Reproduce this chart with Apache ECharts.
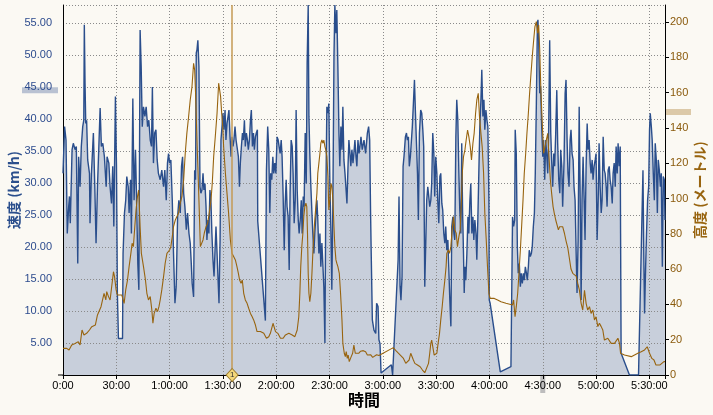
<!DOCTYPE html>
<html>
<head>
<meta charset="utf-8">
<script src="https://cdn.jsdelivr.net/npm/echarts@6/dist/echarts.min.js"></script>
<style>
html,body{margin:0;padding:0;background:#FBF9F3;}
#c{width:713px;height:415px;}
</style>
</head>
<body>
<div id="c"></div>
<script>
// time in minutes, speed in km/h
const speedPoints = [
[0,31.5],[0.9,38.8],[1.7,36.7],[2.4,22.1],[3.2,26.3],[3.6,27.9],[4.1,23.7],[5.1,35.2],[5.8,36.2],[6.8,35.2],[7.5,35.7],[8.3,17.4],[8.8,34.1],[9.6,29.4],[10.3,35.7],[11.1,38.8],[11.7,39.8],[12.0,54.7],[12.4,45.6],[12.8,39.3],[13.3,39.8],[13.9,33.6],[14.9,31.5],[15.2,23.7],[16.0,31.5],[17.1,37.8],[17.9,29.4],[18.6,20.6],[19.4,29.4],[20.3,36.7],[20.9,41.7],[21.6,35.7],[22.4,36.2],[23.3,34.1],[24.3,29.4],[24.8,34.1],[25.8,33.1],[26.5,29.4],[27.3,26.8],[28.0,32.6],[28.6,23.2],[29.5,43.5],[30.1,32.6],[30.6,12.8],[31.2,5.7],[33.5,5.7],[33.8,19.0],[34.6,25.3],[35.3,27.3],[35.9,31.0],[36.7,29.4],[37.2,25.3],[38.0,30.5],[38.5,22.1],[39.3,43.2],[40.0,27.3],[40.8,35.2],[41.5,26.3],[42.1,17.4],[42.7,13.3],[43.4,53.9],[44.0,48.2],[44.6,38.8],[45.3,41.9],[46.1,40.4],[46.8,41.9],[47.6,38.8],[48.3,39.8],[49.1,36.7],[49.8,35.7],[50.3,45.0],[50.9,33.1],[51.6,37.8],[52.3,38.3],[53.0,33.6],[53.7,31.5],
[54.7,30.5],[55.6,32.0],[56.6,29.4],[57.3,32.0],[58.1,27.3],[58.8,33.1],[59.4,34.6],[60.0,33.1],[60.7,33.6],[61.5,27.3],[62.2,19.0],[63.0,11.2],[63.7,13.8],[64.5,24.7],[65.2,27.3],[66.0,25.3],[66.7,32.6],[67.3,34.1],[67.9,28.4],[68.6,26.3],[69.4,22.7],[70.1,25.3],[70.9,22.1],[71.6,20.6],[72.2,17.4],[72.7,14.3],[73.5,12.2],[74.1,32.0],[74.6,30.5],[75.0,50.3],[75.4,50.8],[75.9,52.3],[76.5,48.2],[77.1,29.4],[77.6,28.4],[78.2,28.9],[78.8,31.5],[79.3,28.9],[79.9,29.9],[80.5,26.3],[81.0,21.1],[81.6,24.2],[82.1,22.1],[82.7,28.9],[83.3,26.8],[83.8,22.1],[84.4,18.0],[85.0,15.4],[85.5,19.0],[86.1,23.2],[86.7,19.0],[87.2,15.4],[87.8,11.2],[88.4,21.1],[88.9,36.7],[89.5,38.8],[90.0,40.9],[90.6,38.3],[91.2,41.4],[91.7,36.7],[92.3,39.3],[92.9,40.4],[93.4,41.4],[94.0,37.2],[94.6,34.1],[95.1,37.2],[95.7,35.7],[96.2,36.7],[96.8,38.8],[97.4,36.7],[97.9,35.7],[98.7,34.1],[99.3,29.4],[99.8,33.1],[100.4,35.7],[101.0,37.8],[101.5,36.7],[102.1,39.8],[102.6,35.7],[103.2,37.8],[103.8,36.7],[104.3,35.2],[104.9,36.7],[105.5,39.8],[106.0,41.4],[106.6,35.7],[107.2,37.8],[107.7,35.2],[108.3,37.2],[108.8,37.8],[109.4,38.3],[109.6,24.0],
[113.9,8.5],[114.5,32.0],[115.2,38.8],[115.8,35.2],[116.4,25.3],[116.9,31.5],[117.5,30.5],[118.1,34.1],[118.6,31.5],[119.2,33.1],[119.8,31.5],[120.5,37.2],[121.1,36.7],[121.6,35.7],[122.2,34.6],[122.8,36.7],[123.3,34.1],[123.9,27.9],[124.5,19.5],[125.0,26.3],[125.6,30.5],[126.1,26.3],[126.7,24.7],[127.3,16.4],[127.8,28.4],[128.4,36.7],[129.0,35.7],[129.5,31.5],[130.1,23.7],[130.7,27.3],[131.2,41.4],[131.8,28.9],[132.4,24.2],[132.9,22.1],[133.5,24.2],[134.1,27.3],[134.6,22.1],[135.2,27.9],[135.7,26.3],[136.3,37.8],[136.9,29.9],[137.4,48.7],[138.0,57.8],[138.4,40.4],[138.9,34.6],[139.5,29.4],[140.1,25.3],[140.6,22.1],[141.2,19.0],[141.7,22.1],[142.3,24.7],[142.9,27.3],[143.4,24.2],[144.0,19.0],[144.6,22.1],[145.1,16.9],[145.7,20.6],[146.3,16.9],[146.8,13.8],[147.4,5.0],[147.9,27.3],[148.5,41.9],[149.1,40.9],[149.6,42.4],[150.2,29.9],[150.8,22.1],[151.3,13.3],[151.9,27.3],[152.5,49.7],[153.0,57.8],[153.6,53.4],[154.1,57.0],[154.7,48.2],[155.3,37.8],[155.8,32.6],[156.4,38.8],[157.0,35.2],[157.5,41.9],[158.1,33.6],[158.7,31.5],[159.2,29.4],[159.8,26.8],[160.4,32.6],[160.9,36.7],[161.5,34.6],[162.0,32.6],[162.6,35.2],[163.2,33.1],[163.7,34.6],[164.3,36.7],[164.9,34.1],[165.4,32.6],[166.0,36.7],[166.6,34.6],[167.1,35.7],[167.7,37.2],[168.4,35.2],[169.4,36.7],[170.3,34.6],[171.3,37.8],[172.0,38.8],[172.6,36.7],[173.1,25.3],[173.4,20.0],[174.1,8.6],[175.0,7.0],[176.0,6.5],[176.5,11.2],[177.3,10.7],[177.8,5.5],[178.4,4.9],[179.0,0.3],[179.5,0],
[184.8,1.6],[185.5,0],[188.6,18.0],[189.1,27.9],[189.7,13.8],[190.2,11.7],[190.8,15.4],[191.4,32.6],[191.9,34.1],[192.7,37.2],[193.3,37.8],[193.8,36.7],[194.4,37.2],[194.9,32.6],[195.5,34.1],[196.1,36.7],[196.6,38.8],[197.2,42.4],[197.8,46.1],[198.3,41.4],[198.9,41.4],[199.5,31.5],[200.0,24.2],[200.6,37.8],[201.3,41.4],[201.9,40.9],[202.5,38.3],[203.0,35.7],[203.6,13.8],[204.2,21.1],[204.7,27.3],[205.3,29.4],[205.9,29.4],[206.4,26.3],[207.0,27.3],[207.5,29.9],[208.1,37.8],[208.7,34.6],[209.2,27.9],[209.8,34.1],[210.4,31.5],[210.9,27.3],[211.5,23.7],[212.1,31.0],[212.6,31.5],[213.2,26.8],[213.7,25.8],[214.3,22.1],[214.9,20.6],[215.4,23.2],[216.0,19.5],[216.6,21.1],[217.1,16.9],[217.7,11.7],[218.3,7.6],[218.8,23.2],[219.4,24.7],[220.0,22.1],[220.5,21.1],[221.1,37.2],[221.6,43.0],[222.2,39.8],[222.8,31.5],[223.3,25.8],[223.9,22.1],[224.4,36.2],[224.9,25.3],[225.4,19.0],[225.8,12.8],[226.2,16.9],[226.7,14.8],[227.3,19.0],[227.9,24.7],[228.4,22.1],[229.0,27.3],[229.5,29.9],[230.1,22.1],[230.7,24.7],[231.2,21.1],[231.8,24.2],[232.4,22.1],[232.9,18.0],[233.5,24.7],[234.1,32.6],[234.6,38.8],[235.2,43.0],[235.7,47.7],[236.3,40.4],[236.9,43.0],[237.4,38.3],[238.0,41.4],[238.6,39.8],[239.1,38.8],[239.7,27.3],[239.9,11.7],[240.4,11.2],
[246.1,0.5],[252.1,1.3],[253.0,24.7],[253.6,23.2],[254.2,24.2],[254.5,38.3],[255.1,34.6],[255.7,20.1],[256.2,15.9],[256.8,17.4],[257.4,13.8],[257.9,15.9],[258.5,14.3],[259.1,15.9],[259.6,14.8],[260.2,16.9],[260.8,15.9],[261.3,14.8],[261.9,16.9],[262.4,19.5],[263.0,18.5],[263.6,19.0],[264.1,20.1],[264.7,23.2],[265.3,25.3],[265.8,31.5],[266.4,42.4],[267.0,54.9],[267.3,55.5],[267.7,52.3],[268.3,44.0],[268.8,45.1],[269.4,38.8],[270.0,34.1],[270.5,36.7],[271.1,30.5],[271.7,36.7],[272.2,34.6],[272.8,31.5],[273.3,37.8],[273.9,52.3],[274.5,37.8],[275.0,33.6],[275.6,29.4],[276.2,34.6],[276.7,32.6],[277.3,37.8],[277.9,44.5],[278.4,36.2],[279.0,30.5],[279.6,28.4],[280.1,35.2],[280.7,32.6],[281.2,26.3],[282.0,33.6],[282.6,44.0],[283.1,46.1],[283.7,36.7],[284.2,31.5],[284.8,29.4],[285.4,36.7],[285.9,38.3],[286.5,34.6],[287.1,33.6],[287.6,29.4],[288.2,27.3],[288.8,19.0],[289.3,12.8],[289.9,21.1],[290.5,41.9],[291.0,29.4],[291.6,11.7],[292.1,27.3],[292.7,34.1],[293.3,27.3],[293.8,21.1],[294.4,32.6],[295.0,39.3],[295.5,35.2],[296.1,36.7],[296.7,33.1],[297.2,31.5],[297.8,33.6],[298.3,30.5],[298.9,32.6],[299.5,33.6],[300.0,34.6],[300.6,21.1],[301.2,27.3],[301.7,36.2],[302.3,29.4],[302.9,25.3],[303.4,27.3],[304.0,37.2],[304.6,32.0],[305.1,31.5],[305.7,29.4],[306.2,26.3],[306.8,32.0],[307.4,32.6],[307.9,30.5],[308.5,29.4],[309.1,26.8],[309.6,31.5],[310.2,33.1],[310.8,29.4],[311.3,35.7],[311.9,31.5],[312.4,36.2],[313.0,32.6],[313.6,35.7],[313.8,22.1],[314.1,3.4],
[318.8,0],[323.9,0],[326.4,32.0],[326.9,18.0],[327.3,9.6],[327.9,16.9],[328.4,22.1],[329.0,27.3],[329.6,29.4],[330.1,38.3],[330.5,40.9],[331.1,38.8],[331.6,36.7],[332.2,31.5],[332.8,27.3],[333.3,36.2],[333.9,33.6],[334.5,25.3],[335.0,33.6],[335.6,32.0],[336.2,29.4],[336.7,31.5],[337.3,16.9],[337.8,31.0],[338.4,30.5],[338.8,24.2]
];

// time in minutes, altitude in metres
const altitudePoints = [
[0,15.1],[2.1,15.1],[3.4,14.2],[4.9,17.0],[6.8,17.9],[8.6,18.9],[9.6,17.0],[10.7,25.5],[11.8,22.7],[13.3,23.6],[14.9,25.5],[16.2,27.4],[17.1,26.4],[18.2,28.3],[19.4,34.0],[20.5,34.9],[21.4,38.7],[22.4,39.7],[23.1,46.3],[24.1,42.5],[24.6,47.2],[25.6,44.4],[26.5,42.5],[27.4,50.0],[28.4,58.5],[29.0,55.7],[29.9,48.2],[30.6,45.3],[33.1,45.3],[33.7,46.3],[34.4,40.6],[35.3,48.2],[36.3,53.8],[37.2,61.4],[38.2,68.9],[38.9,74.6],[39.6,72.7],[40.4,84.0],[41.1,93.5],[41.9,101.0],[42.6,104.8],[43.4,84.0],[44.1,68.9],[45.3,61.4],[46.4,53.8],[47.2,46.3],[48.1,42.5],[49.1,44.4],[50.0,36.8],[50.6,29.3],[51.3,34.9],[52.3,37.8],[53.2,35.9],[54.0,38.7],[54.7,42.5],[55.6,48.2],[56.6,55.7],[57.5,63.3],[58.5,68.9],[59.2,68.9],[60.0,70.8],[60.7,72.7],[61.5,78.4],[62.2,84.0],[63.2,87.8],[64.1,87.8],[65.0,91.6],[66.0,97.3],[66.9,101.0],[67.9,110.5],[68.8,125.6],[69.7,136.9],[70.7,146.4],[71.6,155.8],[72.6,163.4],[73.5,176.6],[74.1,172.8],[74.6,159.6],[75.4,133.1],[75.9,118.0],[76.5,99.2],[77.3,72.7],[78.0,72.7],[78.8,76.5],[79.5,80.3],[80.5,84.0],[81.4,85.9],[82.3,91.6],[83.3,99.2],[84.0,108.6],[84.8,123.7],[85.7,135.0],[86.7,148.3],[87.6,165.3],[88.2,165.3],[88.7,157.7],[89.3,148.3],[89.9,140.7],[90.4,129.4],[91.4,114.3],[92.3,102.9],[93.2,91.6],[94.2,76.5],[95.1,68.9],[96.1,67.0],[97.0,65.2],[97.9,61.4],[98.7,57.6],[99.4,53.8],[100.2,51.9],[100.9,53.8],[101.7,46.3],[102.6,42.5],[103.6,40.6],[104.5,37.8],[105.5,34.9],[106.4,33.1],[107.3,31.2],[108.3,28.3],[109.2,24.6],[111.1,24.6],[113.0,23.6],[114.5,20.8],[115.8,21.7],[116.7,23.6],[118.2,29.3],[119.6,24.6],[120.9,23.6],[122.4,20.8],[123.9,20.8],[125.2,22.7],[127.1,23.6],[129.0,22.7],[130.5,21.7],[131.8,25.5],[132.7,33.0],[133.3,46.3],[133.8,61.4],[134.4,72.7],[135.0,80.3],[135.5,89.7],[136.1,95.4],[136.7,97.3],[137.2,95.4],[137.6,80.3],[138.0,57.6],[138.4,46.3],[138.9,41.5],[139.5,46.3],[140.1,57.6],[140.6,68.9],[141.2,80.3],[141.7,87.8],[142.3,95.4],[142.9,102.9],[143.4,114.3],[144.0,119.9],[144.6,125.6],[145.1,131.3],[145.7,133.1],[146.3,131.3],[146.8,133.1],[147.4,129.4],[147.9,127.5],[148.5,123.7],[149.1,112.4],[149.6,93.5],[150.2,99.2],[150.8,108.6],[151.3,106.7],[151.9,99.2],[152.5,84.0],[153.0,72.7],[153.6,65.2],[154.1,63.3],[154.7,61.4],[155.5,57.6],[156.2,46.3],[157.0,31.2],[157.5,17.9],[158.3,12.3],[158.9,10.4],[159.4,13.2],[160.0,9.4],[160.5,11.3],[161.1,7.6],[161.7,6.6],[162.2,10.4],[163.0,12.3],[163.7,17.0],[164.5,12.3],[165.2,13.2],[166.4,12.3],[167.5,13.5],[169.0,13.8],[170.3,13.2],[171.3,11.3],[172.2,10.4],[173.1,11.5],[174.3,10.0],[175.4,10.8],[176.5,11.5],[177.8,11.0],[178.8,11.8],[185.9,15.5],[187.2,14.0],[188.6,12.5],[190.1,11.0],[191.6,9.4],[192.9,6.6],[193.8,5.7],[194.8,8.5],[195.7,12.3],[196.6,11.5],[197.2,8.5],[198.0,6.6],[199.5,5.7],[201.0,4.7],[202.3,2.8],[203.6,1.3],[204.7,1.9],[205.7,6.6],[206.4,12.3],[207.0,17.9],[207.5,19.8],[208.1,16.1],[208.9,11.3],[209.6,10.4],[210.4,12.3],[211.1,17.9],[211.9,23.6],[212.6,31.2],[213.4,38.7],[214.1,46.3],[214.9,53.8],[215.6,61.4],[216.0,68.9],[216.8,70.8],[217.5,68.9],[218.3,72.7],[219.0,82.2],[219.8,89.7],[220.5,82.2],[221.3,80.3],[222.0,72.7],[222.8,78.4],[223.5,82.2],[224.3,100.0],[224.7,114.3],[225.4,123.7],[226.2,127.5],[226.9,133.1],[227.7,138.8],[228.4,135.0],[229.2,129.4],[229.9,121.8],[230.7,131.3],[231.4,136.9],[232.2,148.3],[232.9,155.8],[233.7,159.6],[234.4,146.4],[235.2,136.9],[235.9,129.4],[236.7,114.3],[237.4,91.6],[238.2,76.5],[238.9,61.4],[239.7,46.3],[240.4,43.4],[242.7,43.4],[244.6,42.5],[246.5,41.5],[249.3,40.6],[253.0,39.7],[253.6,42.5],[254.4,33.0],[255.1,38.7],[255.9,46.3],[256.6,57.6],[257.4,70.8],[258.1,84.0],[258.9,99.2],[259.6,114.3],[260.4,125.6],[261.1,136.9],[261.9,148.3],[262.6,159.6],[263.4,170.9],[264.1,180.4],[264.9,189.8],[265.6,197.4],[266.4,200.2],[267.1,193.6],[267.7,198.3],[268.3,184.1],[269.0,159.6],[269.8,140.7],[270.5,125.6],[271.3,129.4],[272.0,133.1],[272.8,136.9],[273.5,123.7],[274.3,110.5],[275.0,102.9],[275.8,95.4],[276.5,91.6],[277.3,87.8],[278.0,87.8],[278.8,82.2],[279.5,84.0],[280.3,84.0],[281.2,84.0],[282.2,80.3],[283.1,76.0],[284.1,72.0],[285.0,66.0],[285.9,60.0],[286.9,57.6],[287.8,58.0],[288.8,56.0],[289.7,51.9],[290.6,48.2],[291.6,40.6],[292.5,36.8],[293.5,48.0],[294.4,40.6],[295.3,36.8],[296.3,38.7],[297.2,34.9],[298.2,36.8],[299.1,31.2],[300.0,33.0],[301.0,27.4],[301.9,29.3],[302.9,27.4],[303.8,25.5],[304.7,19.8],[305.7,20.8],[306.6,20.8],[307.6,19.8],[308.5,17.9],[309.4,18.9],[310.4,17.9],[311.3,17.0],[312.3,20.8],[313.2,17.9],[313.8,12.3],[316.0,11.3],[319.8,10.4],[323.5,12.3],[325.4,13.2],[326.4,12.3],[327.3,14.2],[328.8,16.0],[330.1,12.3],[331.4,9.4],[332.6,8.5],[333.7,5.7],[334.8,6.6],[336.0,5.7],[337.1,6.6],[338.2,7.6],[338.8,7.6]
];

const timeLabels = ['0:00','30:00','1:00:00','1:30:00','2:00:00','2:30:00','3:00:00','3:30:00','4:00:00','4:30:00','5:00:00','5:30:00'];
const cursorTime = [95.2];
const cursorLabel = ['1'];

const labelFont = "'Liberation Sans',Arial,sans-serif";
const cjkFont = "'Noto Sans CJK JP','Noto Sans',sans-serif";
const speedColor = '#2A4E8C';
const altColor = '#98640F';
const gridStyle = {color:'#8a8a8a', width:1, type:[1,2]};

const chart = echarts.init(document.getElementById('c'), null, {renderer:'canvas'});
const option = {
  backgroundColor: '#FBF9F3',
  animation: false,
  grid: {left: 63, right: 48, top: 5, bottom: 40, containLabel: false, outerBoundsMode: 'none'},
  xAxis: {
    type: 'value', min: 0, max: 338.8, interval: 30,
    name: '時間', nameLocation: 'middle', nameGap: 17, nameMoveOverlap: false,
    nameTextStyle: {fontFamily: cjkFont, fontSize: 16, fontWeight: 'bold', color: '#000'},
    axisLine: {show: true, onZero: false, lineStyle: {color: '#000', width: 1}},
    axisTick: {show: true, length: 4, lineStyle: {color: '#000'}},
    axisLabel: {color: '#000', fontFamily: labelFont, fontSize: 11, margin: 5,
      formatter: v => { const i = Math.round(v / 30); return (Math.abs(v - i * 30) < 0.01 && timeLabels[i]) ? timeLabels[i] : ''; }},
    splitLine: {show: true, lineStyle: gridStyle}
  },
  yAxis: [{
    type: 'value', min: 0, max: 57.8, interval: 5, position: 'left', offset: 5,
    name: '速度 (km/h)', nameLocation: 'middle', nameRotate: 90, nameGap: 37, nameMoveOverlap: false,
    nameTextStyle: {fontFamily: cjkFont, fontSize: 14, fontWeight: 'bold', color: speedColor},
    axisLine: {show: true, lineStyle: {color: '#000', width: 1}},
    axisTick: {show: false},
    axisLabel: {color: '#2D4C8E', fontFamily: labelFont, fontSize: 11, margin: 6, showMaxLabel: false,
      formatter: v => (v === 0 || v > 55.5) ? '' : v.toFixed(2)},
    splitLine: {show: true, lineStyle: gridStyle}
  }, {
    type: 'value', min: 0, max: 209.6, interval: 20, position: 'right',
    name: '高度 (メートル)', nameLocation: 'middle', nameRotate: 90, nameGap: 28, nameMoveOverlap: false,
    nameTextStyle: {fontFamily: cjkFont, fontSize: 14, fontWeight: 'bold', color: altColor},
    axisLine: {show: true, lineStyle: {color: '#000', width: 1}},
    axisTick: {show: true, length: 4, lineStyle: {color: '#000'}},
    axisLabel: {color: '#8A5A0C', fontFamily: labelFont, fontSize: 11, margin: 5, showMaxLabel: false,
      formatter: v => v > 200.5 ? '' : String(v)},
    splitLine: {show: false}
  }],
  series: [{
    name: 'speedFill', type: 'line', yAxisIndex: 0, data: speedPoints,
    showSymbol: false, symbol: 'none', z: -1, silent: true,
    lineStyle: {width: 0, opacity: 0},
    areaStyle: {color: '#C8CFDB', opacity: 1}
  }, {
    name: 'speed', type: 'line', yAxisIndex: 0, data: speedPoints,
    showSymbol: false, symbol: 'none', z: 2,
    lineStyle: {color: speedColor, width: 1.4},
    markPoint: {
      symbol: 'diamond', symbolSize: [12, 13],
      itemStyle: {color: '#F3D77A', borderColor: '#9C7A2A', borderWidth: 1},
      label: {show: true, formatter: cursorLabel[0], fontSize: 8, color: '#333', fontFamily: labelFont},
      data: [{coord: [cursorTime[0], 0]}]
    }
  }, {
    name: 'altitude', type: 'line', yAxisIndex: 1, data: altitudePoints,
    showSymbol: false, symbol: 'none', z: 3,
    lineStyle: {color: altColor, width: 1.1},
    markLine: {
      symbol: 'none', silent: true,
      label: {show: false},
      lineStyle: {color: '#C49A55', width: 1.5, type: 'solid'},
      data: [{xAxis: cursorTime[0]}]
    }
  }]
};
chart.setOption(option);

// UI decorations positioned through the axes
const leftBarValue = 44.5, rightBarValue = 149, xMarkerValue = 270;
const gx0 = chart.convertToPixel({xAxisIndex: 0}, 0);
const gx1 = chart.convertToPixel({xAxisIndex: 0}, 338.8);
const gy0 = chart.convertToPixel({yAxisIndex: 0}, 0);
const ly = chart.convertToPixel({yAxisIndex: 0}, leftBarValue);
const ry = chart.convertToPixel({yAxisIndex: 1}, rightBarValue);
const mx = chart.convertToPixel({xAxisIndex: 0}, xMarkerValue);
chart.setOption({
  graphic: [
    {type: 'rect', z: -5, shape: {x: gx0 - 41, y: ly - 3, width: 36, height: 6}, style: {fill: '#B9C2D2'}},
    {type: 'rect', z: -5, shape: {x: gx1, y: ry - 3, width: 26, height: 6}, style: {fill: '#DCC9A8'}},
    {type: 'rect', z: -5, shape: {x: mx - 2.5, y: gy0, width: 5, height: 18}, style: {fill: '#BDBDBD'}},
    {type: 'line', z: 5, shape: {x1: gx0 - 5, y1: gy0, x2: gx0, y2: gy0}, style: {stroke: '#000', lineWidth: 1}}
  ]
});
</script>
</body>
</html>
